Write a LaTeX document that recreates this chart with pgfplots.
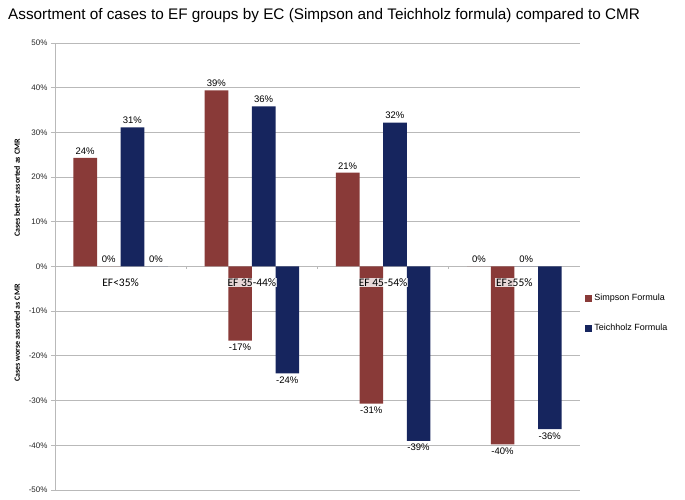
\documentclass[border=0pt]{standalone}
\usepackage{pgfplots}
\pgfplotsset{compat=1.18}
\usepackage{fontspec}
\setmainfont{Liberation Sans}
\newfontfamily\calibri{Carlito}
\definecolor{simred}{RGB}{137,58,56}
\definecolor{teiblue}{RGB}{22,37,94}
\definecolor{gridgray}{RGB}{185,185,185}

\begin{document}
\begin{tikzpicture}
\path (0,0) rectangle (685pt,500pt);
\node[anchor=base west, inner sep=0pt, font=\fontsize{15.3}{17}\selectfont] at (8pt,480.5pt) {Assortment of cases to EF groups by EC (Simpson and Teichholz formula) compared to CMR};
\node[rotate=90, inner sep=0pt, font=\calibri\bfseries\fontsize{8}{10}\selectfont] at (17pt,312pt) {Cases better assorted as CMR};
\node[rotate=90, inner sep=0pt, font=\calibri\bfseries\fontsize{8}{10}\selectfont] at (17pt,167pt) {Cases worse assorted as CMR};
\begin{axis}[
  at={(55pt,10pt)}, anchor=south west, scale only axis,
  width=525pt, height=447pt,
  xmin=-0.5, xmax=3.5, ymin=-50, ymax=50,
  ytick={-50,-40,-30,-20,-10,0,10,20,30,40,50},
  yticklabel={\pgfmathprintnumber{\tick}\%},
  /pgf/number format/assume math mode=true,
  axis x line=none,
  axis y line*=left,
  y axis line style={gridgray, line width=0.9pt, -},
  ymajorgrids, grid style={gridgray, line width=0.9pt},
  major tick length=4pt, tick style={gridgray, line width=0.9pt},
  tick align=outside,
  yticklabel style={font=\fontsize{8}{9}\selectfont, color=black!85},
  ybar, bar width=0.18,
  clip=false,
  nodes near coords={\pgfmathprintnumber[fixed,precision=0]{\pgfplotspointmeta}\%},
  nodes near coords align=vertical,
  every node near coord/.append style={font=\fontsize{9.5}{11}\selectfont, color=black, /pgf/number format/assume math mode=true},
  legend style={at={(1.01,0.443)}, anchor=north west, draw=none, fill=none,
    font=\fontsize{9}{10}\selectfont, row sep=18pt, inner sep=0pt},
  legend cell align=left,
  legend image code/.code={\fill[#1] (0pt,-3.5pt) rectangle (7pt,3.5pt);},
]
\addplot[fill=simred, draw=none, bar shift=-0.27] coordinates {(0,24.3) (1,39.4) (2,21.0) (3,0)};
\addlegendentry{Simpson Formula}
\addplot[fill=simred, draw=none, bar shift=-0.09, forget plot] coordinates {(0,0) (1,-16.6) (2,-30.7) (3,-39.8)};
\addplot[fill=teiblue, draw=none, bar shift=0.09] coordinates {(0,31.1) (1,35.8) (2,32.2) (3,0)};
\addlegendentry{Teichholz Formula}
\addplot[fill=teiblue, draw=none, bar shift=0.27, forget plot] coordinates {(0,0) (1,-23.9) (2,-39.0) (3,-36.4)};
\draw[gridgray, line width=0.9pt] (axis cs:0.5,0) -- ([yshift=-3pt]axis cs:0.5,0);
\draw[gridgray, line width=0.9pt] (axis cs:1.5,0) -- ([yshift=-3pt]axis cs:1.5,0);
\draw[gridgray, line width=0.9pt] (axis cs:2.5,0) -- ([yshift=-3pt]axis cs:2.5,0);
\tikzset{catlab/.style={fill=white, fill opacity=0.8, text opacity=1, inner sep=1pt, yshift=-16pt, font=\calibri\fontsize{11.5}{13}\selectfont}}
\node[catlab] at (axis cs:0,0) {EF<35\%};
\node[catlab] at (axis cs:1,0) {EF 35-44\%};
\node[catlab] at (axis cs:2,0) {EF 45-54\%};
\node[catlab] at (axis cs:3,0) {EF≥55\%};
\end{axis}
\end{tikzpicture}
\end{document}
